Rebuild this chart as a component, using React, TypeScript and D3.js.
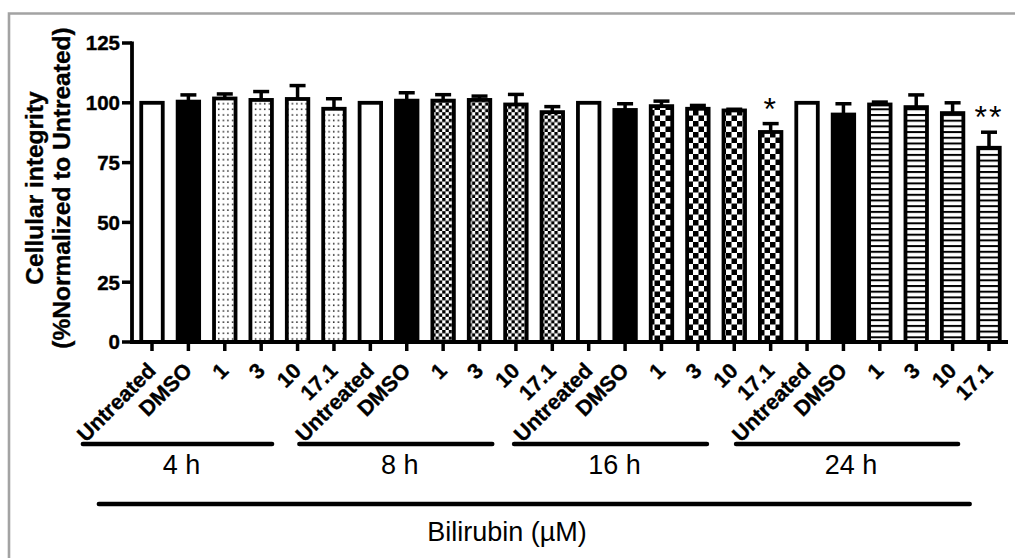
import React, { useMemo } from 'react';
import * as d3 from 'd3';

// values (mean, upper SEM)
const groups = ['4 h', '8 h', '16 h', '24 h'];
const treatments = ['Untreated', 'DMSO', '1', '3', '10', '17.1'];
const means4h = [100, 100.5, 101.8, 101.2, 101.6, 97.5];
const errs4h = [0, 2.8, 1.9, 3.5, 5.6, 4.2];
const means8h = [100, 100.9, 100.9, 101.2, 99.3, 96.1];
const errs8h = [0, 3.3, 2.5, 1.6, 4.2, 2.3];
const means16h = [100, 97.0, 98.6, 97.5, 96.8, 87.8];
const errs16h = [0, 2.6, 2.1, 1.4, 0.5, 3.5];
const means24h = [100, 95.1, 99.3, 98.2, 95.7, 81.2];
const errs24h = [0, 4.5, 1.0, 5.1, 4.3, 6.5];
const stars4h = ['', '', '', '', '', ''];
const stars8h = ['', '', '', '', '', ''];
const stars16h = ['', '', '', '', '', '*'];
const stars24h = ['', '', '', '', '', '**'];
const yTicks = [0, 25, 50, 75, 100, 125];
// group underline extents, in bar-index units (labels are slanted, so lines sit left)
const groupSpans: [number, number][] = [[-1.9, 3.3], [4.05, 9.35], [9.95, 15.25], [16.05, 22.15]];
const outerSpan: [number, number] = [-1.46, 22.47];
const xTitle = 'Bilirubin (µM)';
const yTitle = ['Cellular integrity', '(%Normalized to Untreated)'];

const FONT = '"Liberation Sans", Arial, Helvetica, sans-serif';
const W = 1015;
const H = 558;
const BAR_W = 21.5;
const SW = 3.8;

const allMeans = [means4h, means8h, means16h, means24h];
const allErrs = [errs4h, errs8h, errs16h, errs24h];
const allStars = [stars4h, stars8h, stars16h, stars24h];
const groupPattern = ['url(#dots)', 'url(#fineCheck)', 'url(#coarseCheck)', 'url(#stripes)'];

export default function App() {
  const bars = useMemo(
    () =>
      groups.flatMap((g, gi) =>
        treatments.map((t, ti) => ({
          key: `${g}-${t}`,
          label: t,
          gi,
          ti,
          mean: allMeans[gi][ti],
          err: allErrs[gi][ti],
          star: allStars[gi][ti],
        })),
      ),
    [],
  );

  const x = d3.scalePoint<string>().domain(bars.map(b => b.key)).range([152, 989]);
  const step = x.step();
  const xi = (i: number) => 152 + i * step;
  const y = d3.scaleLinear().domain([0, 125]).range([342, 43]);

  const fillFor = (gi: number, ti: number) => (ti === 0 ? '#fff' : ti === 1 ? '#000' : groupPattern[gi]);

  return (
    <svg width={W} height={H} style={{ position: 'absolute', left: 0, top: 0 }} fontFamily={FONT}>
      <defs>
        <pattern id="dots" width={4.6} height={5.6} patternUnits="userSpaceOnUse">
          <rect width={4.6} height={5.6} fill="#fff" />
          <rect x={1.8} y={2.2} width={1.5} height={1.5} fill="#222" />
        </pattern>
        <pattern id="fineCheck" width={6.6} height={6.6} patternUnits="userSpaceOnUse">
          <rect width={6.6} height={6.6} fill="#fff" />
          <rect width={3.3} height={3.3} fill="#000" />
          <rect x={3.3} y={3.3} width={3.3} height={3.3} fill="#000" />
        </pattern>
        <pattern id="coarseCheck" width={11} height={11} patternUnits="userSpaceOnUse">
          <rect width={11} height={11} fill="#fff" />
          <rect width={5.5} height={5.5} fill="#000" />
          <rect x={5.5} y={5.5} width={5.5} height={5.5} fill="#000" />
        </pattern>
        <pattern id="stripes" width={6} height={5.7} patternUnits="userSpaceOnUse">
          <rect width={6} height={5.7} fill="#fff" />
          <rect y={0} width={6} height={2} fill="#000" />
        </pattern>
      </defs>

      {/* frame */}
      <path d={`M9,${H + 5} V13.5 H${W + 5}`} fill="none" stroke="#a3a3a3" strokeWidth={2.6} />

      {/* bars */}
      {bars.map(b => {
        const cx = x(b.key)!;
        const top = y(b.mean);
        const hi = y(b.mean + b.err);
        return (
          <g key={b.key}>
            {b.err > 0 && (
              <g stroke="#000" strokeWidth={3.5}>
                <line x1={cx} x2={cx} y1={top} y2={hi} />
                <line x1={cx - 8} x2={cx + 8} y1={hi} y2={hi} />
              </g>
            )}
            <rect
              x={cx - BAR_W / 2}
              y={top}
              width={BAR_W}
              height={y(0) - top}
              fill={fillFor(b.gi, b.ti)}
              stroke="#000"
              strokeWidth={SW}
            />
            {b.star && (
              <text x={cx} y={hi - 4} textAnchor="middle" fontSize={32} letterSpacing={2} fill="#000">
                {b.star}
              </text>
            )}
          </g>
        );
      })}

      {/* y axis */}
      <g>
        <line x1={132} x2={132} y1={y(125) - 1.5} y2={y(0) + 1.5} stroke="#000" strokeWidth={3.8} />
        {yTicks.map(t => (
          <g key={t}>
            <line x1={122} x2={132} y1={y(t)} y2={y(t)} stroke="#000" strokeWidth={3.5} />
            <text
              x={120}
              y={y(t)}
              dy="0.36em"
              textAnchor="end"
              fontSize={20.5}
              fontWeight="bold"
              stroke="#000"
              strokeWidth={0.4}
            >
              {t}
            </text>
          </g>
        ))}
      </g>

      {/* x axis */}
      <g>
        <line x1={130} x2={1008} y1={y(0)} y2={y(0)} stroke="#000" strokeWidth={3.8} />
        {bars.map(b => {
          const cx = x(b.key)!;
          return (
            <g key={b.key}>
              <line x1={cx} x2={cx} y1={y(0)} y2={y(0) + 9} stroke="#000" strokeWidth={3.5} />
              <text
                transform={`translate(${cx + 5},${372}) rotate(-45)`}
                textAnchor="end"
                fontSize={21.5}
                fontWeight="bold"
                stroke="#000"
                strokeWidth={0.35}
              >
                {b.label}
              </text>
            </g>
          );
        })}
      </g>

      {/* group brackets */}
      {groups.map((g, gi) => {
        const [a, b] = groupSpans[gi];
        const x1 = xi(a);
        const x2 = xi(b);
        return (
          <g key={g}>
            <line x1={x1} x2={x2} y1={444} y2={444} stroke="#000" strokeWidth={4.5} strokeLinecap="round" />
            <text x={(x1 + x2) / 2 + 4} y={474} textAnchor="middle" fontSize={27}>
              {g}
            </text>
          </g>
        );
      })}

      <line
        x1={xi(outerSpan[0])}
        x2={xi(outerSpan[1])}
        y1={504}
        y2={504}
        stroke="#000"
        strokeWidth={4.5}
        strokeLinecap="round"
      />
      <text x={507} y={541} textAnchor="middle" fontSize={27}>
        {xTitle}
      </text>

      {/* y title */}
      <g
        transform="translate(0,188) rotate(-90)"
        fontSize={24.5}
        fontWeight="bold"
        textAnchor="middle"
        stroke="#000"
        strokeWidth={0.35}
      >
        <text x={0} y={43}>{yTitle[0]}</text>
        <text x={0} y={70}>{yTitle[1]}</text>
      </g>
    </svg>
  );
}
